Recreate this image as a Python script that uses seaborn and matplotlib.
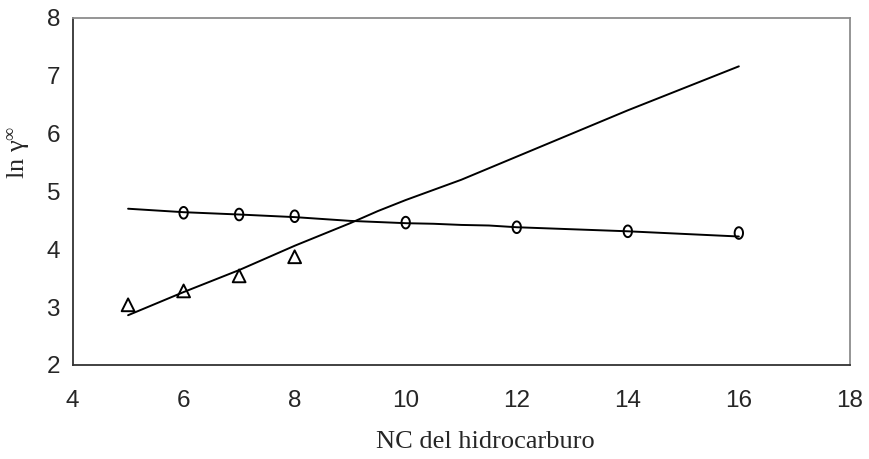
import numpy as np
import pandas as pd
import matplotlib
matplotlib.use("Agg")
import matplotlib.pyplot as plt
import seaborn as sns
from matplotlib.path import Path

# --- datos ---
nc_circ = [6, 7, 8, 10, 12, 14, 16]
ln_circ = [4.63, 4.60, 4.57, 4.46, 4.38, 4.31, 4.28]

nc_tri = [5, 6, 7, 8]
ln_tri = [3.04, 3.28, 3.54, 3.87]

# lineas de ajuste (trazo algo irregular como en el original)
nc_fit_circ = [5, 6, 7, 8, 9, 9.5, 10, 10.5, 11, 11.5, 12, 14, 16]
ln_fit_circ = [4.70, 4.64, 4.60, 4.555, 4.49, 4.47, 4.45, 4.44, 4.42, 4.41, 4.38, 4.31, 4.22]

nc_fit_tri = [5, 6, 7, 8, 9, 9.5, 10, 11, 12, 14, 16]
ln_fit_tri = [2.86, 3.26, 3.64, 4.06, 4.45, 4.66, 4.85, 5.20, 5.60, 6.40, 7.16]

x_ticks = [4, 6, 8, 10, 12, 14, 16, 18]
y_ticks = [2, 3, 4, 5, 6, 7, 8]

sns.set_style("white")
plt.rcParams['font.family'] = ['Liberation Sans', 'DejaVu Sans']
plt.rcParams['mathtext.fontset'] = 'custom'
plt.rcParams['mathtext.rm'] = 'Liberation Serif'
plt.rcParams['mathtext.it'] = 'Liberation Serif'

fig = plt.figure(figsize=(8.69, 4.59), dpi=100)
ax = fig.add_axes([0.0835, 0.2048, 0.8945, 0.7566])

sns.lineplot(x=nc_fit_circ, y=ln_fit_circ, ax=ax, color='black', linewidth=1.4, sort=False)
sns.lineplot(x=nc_fit_tri, y=ln_fit_tri, ax=ax, color='black', linewidth=1.4, sort=False)

# marcador ovalado (como una "o")
t = np.linspace(0, 2 * np.pi, 60)
oval = Path(np.column_stack([0.72 * np.cos(t), np.sin(t)]), closed=True)

sns.scatterplot(x=nc_circ, y=ln_circ, ax=ax, marker=oval, s=70,
                facecolors='none', edgecolors='black', linewidth=1.4, zorder=3)
sns.scatterplot(x=nc_tri, y=ln_tri, ax=ax, marker='^', s=85,
                facecolors='none', edgecolors='black', linewidth=1.4, zorder=3)

ax.set_xlim(4, 18)
ax.set_ylim(2, 8)
ax.set_xticks(x_ticks)
ax.set_yticks(y_ticks)
ax.tick_params(axis='both', labelsize=17.5, direction='out', length=5, width=1, color='#333333')
ax.tick_params(axis='x', pad=13)
ax.tick_params(axis='y', pad=4)

for s in ['left', 'bottom']:
    ax.spines[s].set_color('#333333')
    ax.spines[s].set_linewidth(1.3)
for s in ['top', 'right']:
    ax.spines[s].set_color('#8c8c8c')
    ax.spines[s].set_linewidth(1.3)

ax.set_xlabel('NC del hidrocarburo', fontsize=19, family=['Liberation Serif'])
ax.set_ylabel(r'ln γ$^{\infty}$', fontsize=19, family=['Liberation Serif'])
ax.xaxis.set_label_coords(0.531, -0.19)
ax.yaxis.set_label_coords(-0.052, 0.613)

fig.savefig('out.png', dpi=100)
